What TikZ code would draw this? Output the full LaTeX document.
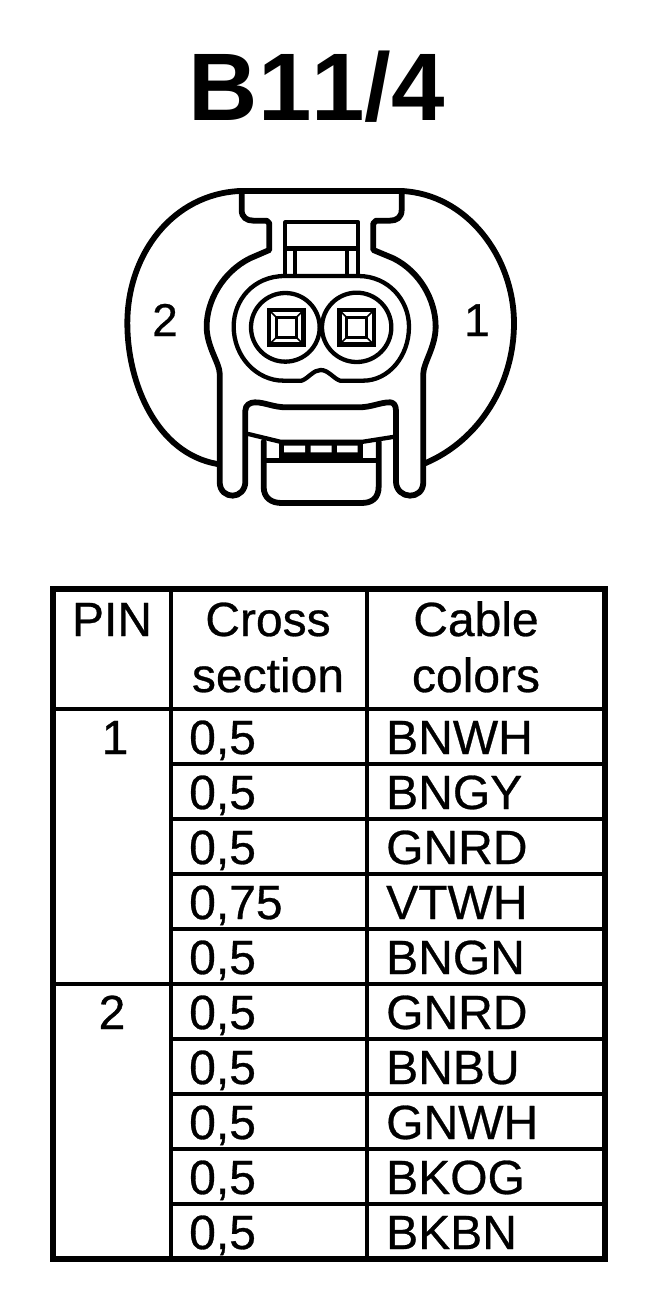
\documentclass[tikz,border=0pt]{standalone}
\usepackage{fontspec}
\setmainfont[RawFeature=-kern]{Liberation Sans}
\newfontfamily\tablefont[RawFeature=-kern,FakeBold=0.6]{Liberation Sans}
\begin{document}
\begin{tikzpicture}[x=1pt,y=-1pt,
  title/.style={inner sep=0pt,anchor=base,font=\fontsize{96}{100}\selectfont\bfseries},
  pinlabel/.style={inner sep=0pt,anchor=base,font=\tablefont\fontsize{46}{50}\selectfont},
  cellc/.style={inner sep=0pt,anchor=base,font=\tablefont\fontsize{48}{50}\selectfont},
  celll/.style={inner sep=0pt,anchor=base west,font=\tablefont\fontsize{48}{50}\selectfont},
  frameline/.style={line width=6pt,line cap=rect},
  rowline/.style={line width=4.6pt},
  part/.style={line width=5.8pt,line join=round,line cap=round},
  thin part/.style={line width=4.3pt,line join=round,line cap=round}]
\useasboundingbox (0,0) rectangle (672,1304);
\fill[white] (0,0) rectangle (672,1304);
\node[title] (ttl) at (317,120) {B11/4};
\begin{scope}[shift={(110,170)},x=0.33333pt,y=-0.33333pt]
  % housing arcs
  \draw[part] (390,63) .. controls (190,72) and (52,250) .. (52,460)
     .. controls (52,640) and (140,850) .. (322,882);
  \draw[part] (875,63) .. controls (1070,72) and (1212,260) .. (1212,460)
     .. controls (1212,640) and (1110,810) .. (945,880);
  % top bar
  \draw[part] (385,63) -- (880,63);
  % central body outline
  \draw[part] (395,63) -- (395,120) .. controls (395,142) and (410,152) .. (430,152)
     -- (470,152) -- (478,160) -- (478,240) -- (420,265)
     .. controls (340,305) and (290,390) .. (290,470)
     .. controls (290,530) and (329,580) .. (329,610)
     -- (329,935) .. controls (329,965) and (350,977) .. (368,977)
     .. controls (388,977) and (406,960) .. (406,935)
     -- (406,722) .. controls (406,705) and (420,697) .. (435,697)
     .. controls (465,697) and (490,712) .. (530,712) -- (745,712)
     .. controls (785,712) and (810,697) .. (840,697)
     .. controls (850,697) and (858,705) .. (858,722)
     -- (858,935) .. controls (858,960) and (878,977) .. (900,977)
     .. controls (920,977) and (940,965) .. (940,935)
     -- (940,610) .. controls (940,580) and (977,530) .. (977,470)
     .. controls (977,390) and (930,305) .. (850,265)
     -- (790,240) -- (790,160) -- (798,152) -- (840,152)
     .. controls (860,152) and (875,142) .. (875,120) -- (875,63);
  % latch lower edge
  \draw[thin part] (415,792) -- (510,815) -- (760,815) -- (855,800);
  % lower latch
  \draw[part] (461,815) -- (461,950) .. controls (461,985) and (485,999) .. (515,999)
     -- (755,999) .. controls (785,999) and (806,985) .. (806,950) -- (806,815);
  \draw[line width=5pt] (461,870) -- (806,870);
  \fill (507,818) rectangle (758,870);
  \fill[white] (522,827) rectangle (585,847) (602,827) rectangle (665,847) (681,827) rectangle (743,847);
  % tab box
  \draw[thin part] (526,315) -- (526,157) -- (745,157) -- (745,315);
  \draw[line width=5pt] (526,235) -- (745,235);
  \draw[thin part] (555,235) -- (555,310) (712,235) -- (712,310);
  % inner shell
  \draw[thin part] (525,318) .. controls (430,318) and (371,390) .. (371,470)
     .. controls (371,560) and (440,632) .. (520,632) -- (575,632)
     .. controls (595,625) and (610,600) .. (632,600)
     .. controls (655,600) and (670,625) .. (690,632) -- (760,632)
     .. controls (835,632) and (897,560) .. (897,470)
     .. controls (897,390) and (835,318) .. (745,318) -- cycle;
  % sockets
  \draw[thin part] (526,472) circle[radius=103];
  \draw[thin part] (740,472) circle[radius=104];
  \foreach \cx in {529,740}{
    \draw[line width=4.4pt] (\cx-52,420) rectangle (\cx+52,524);
    \draw[line width=3pt] (\cx-30,442) rectangle (\cx+30,502);
    \draw[line width=1.6pt] (\cx-52,420) -- (\cx-30,442) (\cx+52,420) -- (\cx+30,442)
       (\cx-52,524) -- (\cx-30,502) (\cx+52,524) -- (\cx+30,502);
  }
\end{scope}
\node[pinlabel] (p2) at (165,336) {2};
\node[pinlabel] (p1) at (477,336) {1};
% table
\foreach \yy in {764,819,874,929,1039,1094,1149,1204}
  \draw[rowline] (171,\yy) -- (605,\yy);
\draw[rowline] (53,709) -- (605,709) (53,984) -- (605,984);
\draw[rowline] (171,589) -- (171,1259) (367,589) -- (367,1259);
\draw[frameline] (53,589) rectangle (605,1259);
\node[cellc] (h1) at (112,636) {PIN};
\node[cellc] (h2a) at (268,636) {Cross};
\node[cellc] (h2b) at (268,692) {section};
\node[cellc] (h3a) at (476,636) {Cable};
\node[cellc] (h3b) at (476,692) {colors};
\node[cellc] (pa) at (115,754) {1};
\node[cellc] (pb) at (112,1029) {2};
\node[celll] (c1) at (189,754) {0,5};   \node[celll] (d1) at (386,754) {BNWH};
\node[celll] (c2) at (189,809) {0,5};   \node[celll] (d2) at (386,809) {BNGY};
\node[celll] (c3) at (189,864) {0,5};   \node[celll] (d3) at (386,864) {GNRD};
\node[celll] (c4) at (189,919) {0,75};  \node[celll] (d4) at (386,919) {VTWH};
\node[celll] (c5) at (189,974) {0,5};   \node[celll] (d5) at (386,974) {BNGN};
\node[celll] (c6) at (189,1029) {0,5};  \node[celll] (d6) at (386,1029) {GNRD};
\node[celll] (c7) at (189,1084) {0,5};  \node[celll] (d7) at (386,1084) {BNBU};
\node[celll] (c8) at (189,1139) {0,5};  \node[celll] (d8) at (386,1139) {GNWH};
\node[celll] (c9) at (189,1194) {0,5};  \node[celll] (d9) at (386,1194) {BKOG};
\node[celll] (c10) at (189,1249) {0,5}; \node[celll] (d10) at (386,1249) {BKBN};
\end{tikzpicture}
\end{document}
